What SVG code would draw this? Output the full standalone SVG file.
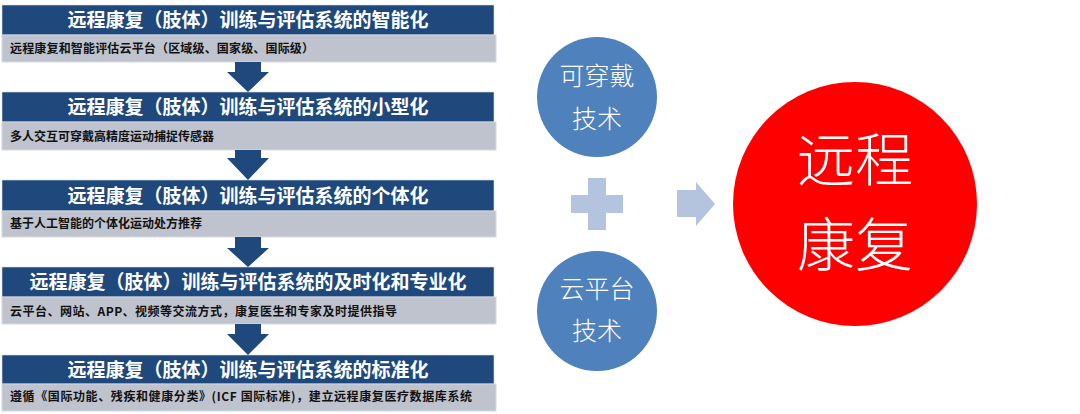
<svg xmlns="http://www.w3.org/2000/svg" width="1080" height="414" viewBox="0 0 1080 414">
<style>
.hdr{fill:#1F497D;stroke:#d9dde6;stroke-width:0.6}
.sub{fill:#BEC3CE;stroke:#d4d8e0;stroke-width:1}
.ht{font-family:"Noto Sans CJK SC","Noto Sans",sans-serif;font-size:19px;font-weight:bold;fill:#ffffff;text-anchor:middle}
.st{font-family:"Noto Sans CJK SC","Noto Sans",sans-serif;font-size:12px;font-weight:bold;fill:#111111}
.dn{fill:#1F497D}
.bc{fill:#4F81BD}
.bt{font-family:"Noto Sans CJK SC","Noto Sans",sans-serif;font-size:25px;font-weight:300;fill:#ffffff;text-anchor:middle}
.lt{fill:#B4C4DF}
.rt{font-family:"Noto Sans CJK SC","Noto Sans",sans-serif;font-size:58px;font-weight:300;fill:#ffffff;text-anchor:middle}
</style>
<rect width="1080" height="414" fill="#ffffff"/>
<g id="step1">
<rect class="hdr" x="2" y="5" width="492" height="30"/>
<rect class="sub" x="2" y="35" width="494" height="27"/>
<text class="ht" x="248" y="27">远程康复（肢体）训练与评估系统的智能化</text>
<text class="st" x="10" y="53" textLength="304" lengthAdjust="spacing">远程康复和智能评估云平台（区域级、国家级、国际级）</text>
</g>
<g id="step2">
<rect class="hdr" x="2" y="92" width="492" height="30"/>
<rect class="sub" x="2" y="122" width="494" height="28"/>
<text class="ht" x="248" y="114">远程康复（肢体）训练与评估系统的小型化</text>
<text class="st" x="10" y="140.5">多人交互可穿戴高精度运动捕捉传感器</text>
</g>
<g id="step3">
<rect class="hdr" x="2" y="180" width="492" height="31"/>
<rect class="sub" x="2" y="211" width="494" height="26"/>
<text class="ht" x="248" y="202.5">远程康复（肢体）训练与评估系统的个体化</text>
<text class="st" x="10" y="228">基于人工智能的个体化运动处方推荐</text>
</g>
<g id="step4">
<rect class="hdr" x="2" y="267" width="492" height="30"/>
<rect class="sub" x="2" y="297" width="494" height="27"/>
<text class="ht" x="248" y="289">远程康复（肢体）训练与评估系统的及时化和专业化</text>
<text class="st" x="10" y="316" textLength="387" lengthAdjust="spacing">云平台、网站、APP、视频等交流方式，康复医生和专家及时提供指导</text>
</g>
<g id="step5">
<rect class="hdr" x="2" y="355" width="492" height="29"/>
<rect class="sub" x="2" y="384" width="494" height="27"/>
<text class="ht" x="248" y="376.5">远程康复（肢体）训练与评估系统的标准化</text>
<text class="st" x="10" y="401" textLength="462" lengthAdjust="spacing">遵循《国际功能、残疾和健康分类》(ICF 国际标准)，建立远程康复医疗数据库系统</text>
</g>
<g id="connectors">
<polygon class="dn" points="235,62 261,62 261,72 269,72 248,92 227,72 235,72"/>
<polygon class="dn" points="235,150 261,150 261,158 269,158 248,180 227,158 235,158"/>
<polygon class="dn" points="235,237 261,237 261,248 269,248 248,267 227,248 235,248"/>
<polygon class="dn" points="235,324 261,324 261,334 269,334 248,355 227,334 235,334"/>
<polygon id="plus" class="lt" points="588,178 606,178 606,195 623,195 623,213 606,213 606,230 588,230 588,213 571,213 571,195 588,195"/>
<polygon id="rarrow" class="lt" points="677,190 696,190 696,182 715,204 696,226 696,217 677,217"/>
</g>
<g id="wearable">
<circle class="bc" cx="597" cy="97" r="60"/>
<text class="bt"><tspan x="597" y="84.5">可穿戴</tspan><tspan x="597" y="127.5">技术</tspan></text>
</g>
<g id="cloud">
<circle class="bc" cx="597" cy="311" r="60"/>
<text class="bt"><tspan x="597" y="297.5">云平台</tspan><tspan x="597" y="339.5">技术</tspan></text>
</g>
<g id="remote">
<circle cx="855" cy="204" r="122" fill="#FF0000"/>
<text class="rt"><tspan x="855" y="180.5">远程</tspan><tspan x="855" y="265.5">康复</tspan></text>
</g>
</svg>
